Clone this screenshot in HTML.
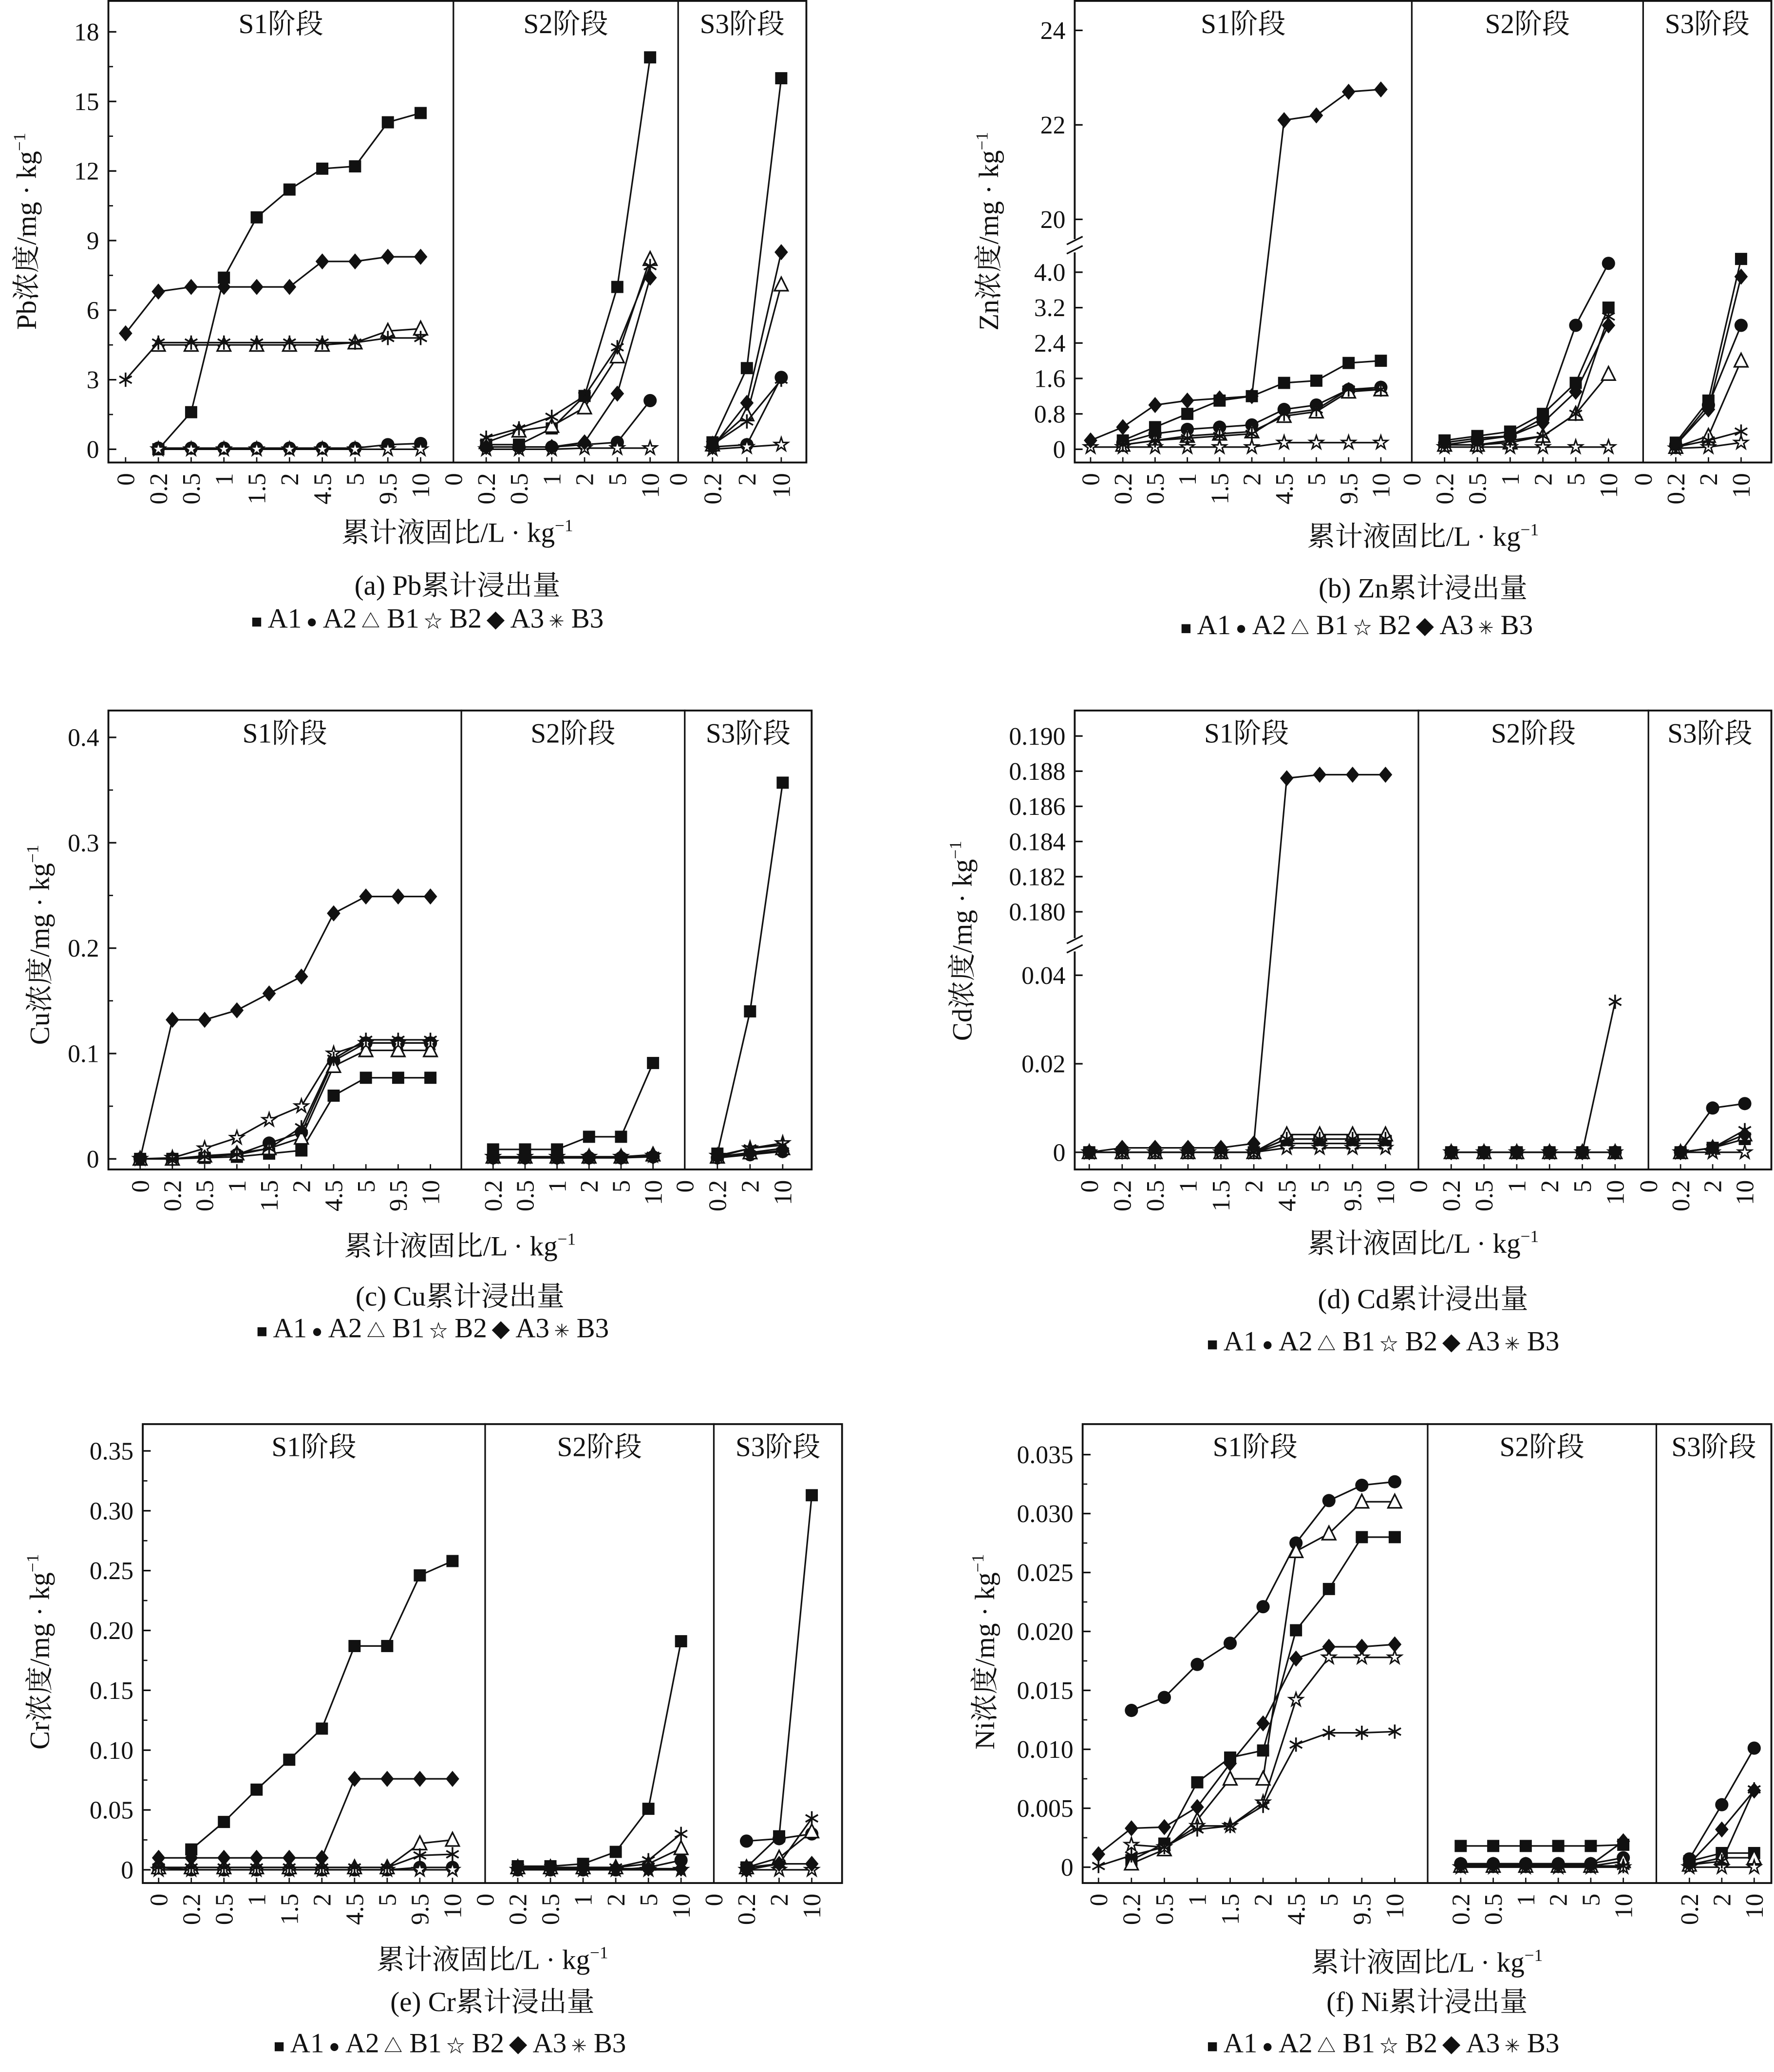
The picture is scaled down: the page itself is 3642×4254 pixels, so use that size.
<!DOCTYPE html>
<html><head><meta charset="utf-8">
<style>
html,body{margin:0;padding:0;background:#fff;}
svg{display:block;}
text{font-family:"Liberation Serif","Noto Serif CJK SC",serif;fill:#111;}
</style></head>
<body>
<svg id="chart" xmlns="http://www.w3.org/2000/svg" width="3642" height="4254" viewBox="0 0 1342 1568" preserveAspectRatio="none">
<rect x="0" y="0" width="1342" height="1568" fill="#fff"/>
</svg>
<script>
// ---------- categories ----------
const catsFull = ['0','0.2','0.5','1','1.5','2','4.5','5','9.5','10','0','0.2','0.5','1','2','5','10','0','0.2','2','10'];
const segFull = [10,7,4];
const catsCu = ['0','0.2','0.5','1','1.5','2','4.5','5','9.5','10','0.2','0.5','1','2','5','10','0','0.2','2','10'];
const segCu = [10,6,4];
const catsNi = ['0','0.2','0.5','1','1.5','2','4.5','5','9.5','10','0.2','0.5','1','2','5','10','0.2','2','10'];
const segNi = [10,6,3];
const seriesNames = ['A1','A2','B1','B2','A3','B3'];

// ---------- Pb ----------
const pbA1 = [null,0,1.6,7.4,10,11.2,12.1,12.2,14.1,14.5, null,0.2,0.2,0.9,2.3,7,16.9, null,0.3,3.5,16];
const pbA2 = [null,0.05,0.05,0.05,0.05,0.05,0.05,0.05,0.2,0.25, null,0.1,0.1,0.1,0.2,0.3,2.1, null,0.1,0.2,3.1];
const pbB1 = [null,4.5,4.5,4.5,4.5,4.5,4.5,4.6,5.1,5.2, null,0.3,0.8,1.0,1.8,4.0,8.2, null,0.2,1.5,7.1];
const pbB2 = [null,0,0,0,0,0,0,0,0,0, null,0,0,0,0.05,0.05,0.05, null,0,0.1,0.2];
const pbA3 = [5,6.8,7,7,7,7,8.1,8.1,8.3,8.3, null,0.1,0.1,0.1,0.3,2.4,7.4, null,0.1,2.0,8.5];
const pbB3 = [3,4.6,4.6,4.6,4.6,4.6,4.6,4.6,4.8,4.8, null,0.5,0.9,1.4,2.3,4.4,7.9, null,0.2,1.2,3.0];
const pbTicks = [0,3,6,9,12,15,18];
const pbTickLabels = ['0','3','6','9','12','15','18'];

// ---------- Zn ----------
const znA1 = [null,0.2,0.5,0.8,1.1,1.2,1.5,1.55,1.95,2.0, null,0.2,0.3,0.4,0.8,1.5,3.2, null,0.15,1.1,4.3];
const znA2 = [null,0.15,0.35,0.45,0.5,0.55,0.9,1.0,1.35,1.4, null,0.1,0.2,0.3,0.7,2.8,4.2, null,0.1,1.0,2.8];
const znB1 = [null,0.1,0.2,0.3,0.35,0.4,0.75,0.85,1.3,1.35, null,0.1,0.1,0.15,0.3,0.8,1.7, null,0.05,0.3,2.0];
const znB2 = [0.05,0.05,0.05,0.05,0.05,0.05,0.15,0.15,0.15,0.15, null,0.05,0.05,0.05,0.05,0.05,0.05, null,0.02,0.05,0.15];
const znA3 = [0.2,0.5,1.0,1.1,1.15,1.2,22.1,22.2,22.7,22.75, null,0.15,0.25,0.3,0.6,1.3,2.8, null,0.1,0.9,3.9];
const znB3 = [null,0.1,0.2,0.25,0.3,0.35,0.8,0.9,1.35,1.35, null,0.1,0.1,0.2,0.3,0.8,3.0, null,0.05,0.2,0.4];
const znTicks = [0,0.8,1.6,2.4,3.2,4.0,20,22,24];
const znTickLabels = ['0','0.8','1.6','2.4','3.2','4.0','20','22','24'];

// ---------- Cu ----------
const cuA1 = [0,0,0.001,0.002,0.005,0.008,0.06,0.077,0.077,0.077, 0.009,0.009,0.009,0.021,0.021,0.091, null,0.005,0.14,0.357];
const cuA2 = [0,0,0.002,0.004,0.015,0.025,0.093,0.11,0.11,0.11, 0.001,0.001,0.001,0.001,0.001,0.002, null,0.001,0.004,0.007];
const cuB1 = [0,0,0.003,0.005,0.01,0.02,0.088,0.103,0.103,0.103, 0.002,0.002,0.002,0.002,0.002,0.004, null,0.002,0.006,0.01];
const cuB2 = [0,0.001,0.01,0.02,0.037,0.05,0.1,0.11,0.11,0.11, 0.002,0.002,0.002,0.002,0.002,0.003, null,0.003,0.01,0.015];
const cuA3 = [0,0.132,0.132,0.141,0.157,0.173,0.233,0.249,0.249,0.249, 0.002,0.002,0.002,0.002,0.002,0.002, null,0.002,0.005,0.008];
const cuB3 = [0,0,0.002,0.004,0.01,0.03,0.095,0.113,0.113,0.113, 0.001,0.001,0.001,0.001,0.001,0.003, null,0.002,0.01,0.013];
const cuTicks = [0,0.1,0.2,0.3,0.4];
const cuTickLabels = ['0','0.1','0.2','0.3','0.4'];

// ---------- Cd ----------
const cdA1 = [0,0,0,0,0,0,0.002,0.002,0.002,0.002, null,0,0,0,0,0,0, null,0,0.001,0.003];
const cdA2 = [0,0,0,0,0,0,0.003,0.003,0.003,0.003, null,0,0,0,0,0,0, null,0,0.01,0.011];
const cdB1 = [0,0,0,0,0,0,0.004,0.004,0.004,0.004, null,0,0,0,0,0,0, null,0,0.001,0.004];
const cdB2 = [0,0,0,0,0,0,0.001,0.001,0.001,0.001, null,0,0,0,0,0,0, null,0,0,0];
const cdA3 = [0,0.001,0.001,0.001,0.001,0.002,0.1876,0.1878,0.1878,0.1878, null,0,0,0,0,0,0, null,0,0.001,0.004];
const cdB3 = [0,0,0,0,0,0,0.003,0.003,0.003,0.003, null,0,0,0,0,0,0.034, null,0,0.001,0.005];
const cdTicks = [0,0.02,0.04,0.18,0.182,0.184,0.186,0.188,0.19];
const cdTickLabels = ['0','0.02','0.04','0.180','0.182','0.184','0.186','0.188','0.190'];

// ---------- Cr ----------
const crA1 = [null,0.017,0.04,0.067,0.092,0.118,0.187,0.187,0.246,0.258, null,0.003,0.003,0.005,0.015,0.051,0.191, null,0.002,0.028,0.313];
const crA2 = [0.002,0,0,0,0,0,0,0,0.002,0.002, null,0,0,0,0,0.002,0.008, null,0.024,0.026,0.03];
const crB1 = [0.002,0.002,0.002,0.002,0.002,0.002,0.002,0.002,0.022,0.025, null,0.002,0.002,0.002,0.002,0.005,0.018, null,0.002,0.01,0.032];
const crB2 = [0,0,0,0,0,0,0,0,0,0, null,0,0,0,0,0,0, null,0,0,0];
const crA3 = [0.01,0.01,0.01,0.01,0.01,0.01,0.076,0.076,0.076,0.076, null,0.001,0.001,0.001,0.001,0.001,0.001, null,0,0.005,0.005];
const crB3 = [0.002,0.002,0.002,0.002,0.002,0.002,0.002,0.002,0.012,0.013, null,0.002,0.002,0.002,0.002,0.008,0.03, null,0.002,0.005,0.043];
const crTicks = [0,0.05,0.1,0.15,0.2,0.25,0.3,0.35];
const crTickLabels = ['0','0.05','0.10','0.15','0.20','0.25','0.30','0.35'];

// ---------- Ni ----------
const niA1 = [null,0.0006,0.002,0.0072,0.0093,0.0099,0.0201,0.0236,0.028,0.028, 0.0018,0.0018,0.0018,0.0018,0.0018,0.0019, 0.0005,0.0012,0.0012];
const niA2 = [null,0.0133,0.0144,0.0172,0.019,0.0221,0.0275,0.0311,0.0324,0.0327, 0.0003,0.0003,0.0003,0.0003,0.0003,0.0008, 0.0007,0.0053,0.0101];
const niB1 = [null,0.0003,0.0015,0.004,0.0075,0.0075,0.0268,0.0283,0.031,0.031, 0.0001,0.0001,0.0001,0.0001,0.0001,0.0005, 0.0002,0.0008,0.0008];
const niB2 = [null,0.0019,0.0017,0.0035,0.0035,0.0055,0.0142,0.0178,0.0178,0.0178, 0,0,0,0,0,0, 0,0,0];
const niA3 = [0.0011,0.0033,0.0034,0.0051,0.0088,0.0122,0.0177,0.0187,0.0187,0.0189, 0.0002,0.0002,0.0002,0.0002,0.0002,0.0022, 0.0003,0.0032,0.0065];
const niB3 = [0.0001,0.001,0.0017,0.0032,0.0035,0.0052,0.0104,0.0114,0.0114,0.0115, 0.0001,0.0001,0.0001,0.0001,0.0001,0.0001, 0.0002,0.0005,0.0066];
const niTicks = [0,0.005,0.01,0.015,0.02,0.025,0.03,0.035];
const niTickLabels = ['0','0.005','0.010','0.015','0.020','0.025','0.030','0.035'];

const NS='http://www.w3.org/2000/svg';
const svg=document.getElementById('chart');
function el(tag,attrs,parent,txt){
  const e=document.createElementNS(NS,tag);
  for(const k in attrs) e.setAttribute(k,attrs[k]);
  if(txt!==undefined) e.textContent=txt;
  (parent||svg).appendChild(e);
  return e;
}

const panels=[
 {id:'pb',el:'Pb',letter:'a',cats:catsFull,seg:segFull,series:[pbA1,pbA2,pbB1,pbB2,pbA3,pbB3],ticks:pbTicks,tl:pbTickLabels,
  box:[82,0,610,350],div:[343,513],segX:[[95,24.8],[343,24.8],[513,26]],
  y:v=>340-v*17.55,minor:1.5,yt:[20,175],xt:410,cap:450,leg:[190,475]},
 {id:'zn',el:'Zn',letter:'b',cats:catsFull,seg:segFull,series:[znA1,znA2,znB1,znB2,znA3,znB3],ticks:znTicks,tl:znTickLabels,
  box:[813,0,1340,350],div:[1068,1243],segX:[[825,24.4],[1068,24.8],[1243,24.7]],
  y:v=>v>=10?166-(v-20)*35.75:340-v*33.5,brk:186,yt:[748,175],xt:413,cap:452,leg:[893,480]},
 {id:'cu',el:'Cu',letter:'c',cats:catsCu,seg:segCu,series:[cuA1,cuA2,cuB1,cuB2,cuA3,cuB3],ticks:cuTicks,tl:cuTickLabels,
  box:[82,537,614,885],div:[349,518],segX:[[106,24.4],[373,24.2],[518,24.7]],
  y:v=>877-v*797.5,minor:0.05,yt:[30,715],xt:950,cap:988,leg:[194,1012]},
 {id:'cd',el:'Cd',letter:'d',cats:catsFull,seg:segFull,series:[cdA1,cdA2,cdB1,cdB2,cdA3,cdB3],ticks:cdTicks,tl:cdTickLabels,
  box:[813,537,1340,885],div:[1073,1247],segX:[[824,24.9],[1073,24.8],[1247,24.3]],
  y:v=>v>=0.1?690-(v-0.18)*13300:872-v*3350,brk:715,yt:[728,712],xt:948,cap:990,leg:[913,1022]},
 {id:'cr',el:'Cr',letter:'e',cats:catsFull,seg:segFull,series:[crA1,crA2,crB1,crB2,crA3,crB3],ticks:crTicks,tl:crTickLabels,
  box:[108,1077,637,1425],div:[367,540],segX:[[120,24.7],[367,24.7],[540,24.7]],
  y:v=>1415-v*905.7,minor:0.025,yt:[30,1250],xt:1490,cap:1522,leg:[207,1553]},
 {id:'ni',el:'Ni',letter:'f',cats:catsNi,seg:segNi,series:[niA1,niA2,niB1,niB2,niA3,niB3],ticks:niTicks,tl:niTickLabels,
  box:[819,1077,1340,1425],div:[1080,1253],segX:[[831,24.9],[1105,24.6],[1278,24.5]],
  y:v=>1413-v*8920,minor:0.0025,yt:[745,1250],xt:1492,cap:1522,leg:[913,1553]}
];

function marker(g,type,x,y){
  const s=4.6;
  if(type===0) el('rect',{x:x-s,y:y-s,width:2*s,height:2*s,fill:'#111'},g);
  else if(type===1) el('circle',{cx:x,cy:y,r:s+0.4,fill:'#111'},g);
  else if(type===2) el('polygon',{points:`${x},${y-s-1} ${x-s-0.5},${y+s} ${x+s+0.5},${y+s}`,fill:'#fff',stroke:'#111','stroke-width':1.2},g);
  else if(type===3){
    let p=[];for(let i=0;i<10;i++){const r=i%2?s*0.45:s+0.8;const a=-Math.PI/2+i*Math.PI/5;p.push((x+r*Math.cos(a)).toFixed(2)+','+(y+r*Math.sin(a)).toFixed(2));}
    el('polygon',{points:p.join(' '),fill:'#fff',stroke:'#111','stroke-width':1.1},g);
  }
  else if(type===4) el('polygon',{points:`${x},${y-s-1.5} ${x+s+0.5},${y} ${x},${y+s+1.5} ${x-s-0.5},${y}`,fill:'#111'},g);
  else {
    for(let i=0;i<3;i++){const a=Math.PI/2+i*Math.PI/3;const r=s+0.8;
      el('line',{x1:x-r*Math.cos(a),y1:y-r*Math.sin(a),x2:x+r*Math.cos(a),y2:y+r*Math.sin(a),stroke:'#111','stroke-width':1.3},g);}
  }
}

panels.forEach(P=>{
  const g=el('g',{});
  
  
  const [x0,y0,x1,y1]=P.box;
  const xs=[];
  P.seg.forEach((n,si)=>{for(let i=0;i<n;i++) xs.push(P.segX[si][0]+i*P.segX[si][1]);});
  const segIdx=[];P.seg.forEach((n,si)=>{for(let i=0;i<n;i++) segIdx.push(si);});
  const box=el('rect',{x:x0,y:y0+0.7,width:x1-x0,height:y1-y0-0.7,fill:'none',stroke:'#111','stroke-width':1.4},g);
  
  
  P.div.forEach((d,i)=>{
    const l=el('line',{x1:d,y1:y0,x2:d,y2:y1,stroke:'#111','stroke-width':1.2},g);
    
    
  });
  const bounds=[x0,P.div[0],P.div[1],x1];
  ['S1阶段','S2阶段','S3阶段'].forEach((s,i)=>{
    const t=el('text',{x:(bounds[i]+bounds[i+1])/2,y:y0+25,'text-anchor':'middle','font-size':21},g,s);
    
    
  });
  const yTickG=el('g',{},g);
  
  
  P.ticks.forEach((v,i)=>{
    const yy=P.y(v);
    el('line',{x1:x0,y1:yy,x2:x0+6,y2:yy,stroke:'#111','stroke-width':1.2},yTickG);
    const t=el('text',{x:x0-7,y:yy+6.5,'text-anchor':'end','font-size':19},yTickG,P.tl[i]);
    
    
  });
  if(P.minor){
    const mx=P.ticks[P.ticks.length-1];
    for(let v=P.minor;v<mx;v+=2*P.minor){const yy=P.y(v);el('line',{x1:x0,y1:yy,x2:x0+3.5,y2:yy,stroke:'#111','stroke-width':1},yTickG);}
  }
  if(P.brk){
    el('rect',{x:x0-4,y:P.brk-5,width:8,height:10,fill:'#fff'},yTickG);
    el('line',{x1:x0-6,y1:P.brk-1,x2:x0+6,y2:P.brk-7,stroke:'#111','stroke-width':1.2},yTickG);
    el('line',{x1:x0-6,y1:P.brk+6,x2:x0+6,y2:P.brk,stroke:'#111','stroke-width':1.2},yTickG);
  }
  P.cats.forEach((c,i)=>{
    const x=xs[i];
    el('line',{x1:x,y1:y1,x2:x,y2:y1-4,stroke:'#111','stroke-width':1},g);
    const t=el('text',{x:0,y:0,'text-anchor':'end','font-size':19,transform:`translate(${x+6.5},${y1+8}) rotate(-90)`},g,c);
    
    
  });
  P.series.forEach((arr,si)=>{
    const sg=el('g',{},g);
    
    
    let pts=[];let lastSeg=-1;
    const flush=()=>{if(pts.length>1) el('polyline',{points:pts.map(p=>p.join(',')).join(' '),fill:'none',stroke:'#111','stroke-width':1.2},sg);pts=[];};
    arr.forEach((v,i)=>{
      if(segIdx[i]!==lastSeg){flush();lastSeg=segIdx[i];}
      if(v===null||v===undefined){flush();return;}
      pts.push([xs[i],P.y(v)]);
    });
    flush();
    arr.forEach((v,i)=>{ if(v!==null&&v!==undefined) marker(sg,si,xs[i],P.y(v)); });
  });
  const yt=el('text',{x:0,y:0,'text-anchor':'middle','font-size':21,transform:`translate(${P.yt[0]+7},${P.yt[1]}) rotate(-90)`},g);
  
  
  yt.appendChild(document.createTextNode(P.el+'浓度/mg · kg'));
  el('tspan',{dy:-8,'font-size':13},yt,'−1');
  const xc=(x0+x1)/2;
  const xt=el('text',{x:xc,y:P.xt,'text-anchor':'middle','font-size':21},g);
  
  
  xt.appendChild(document.createTextNode('累计液固比/L · kg'));
  el('tspan',{dy:-8,'font-size':13},xt,'−1');
  const cap=el('text',{x:xc,y:P.cap,'text-anchor':'middle','font-size':21},g,`(${P.letter}) ${P.el}累计浸出量`);
  
  
  const leg=el('text',{x:P.leg[0],y:P.leg[1],'font-size':21},g);
  
  
  const glyphs=['■','●','△','☆','◆','✳'];
  seriesNames.forEach((n,i)=>{
    el('tspan',{'font-size':14},leg,(i?'  ':'')+glyphs[i]);
    el('tspan',{'font-size':21},leg,' '+n);
  });
});
</script>
</body></html>
